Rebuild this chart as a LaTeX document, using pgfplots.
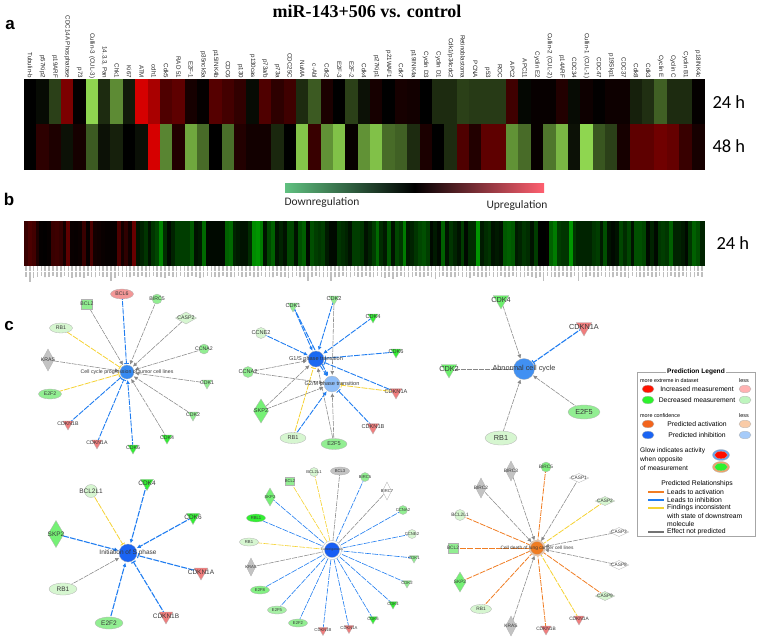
\documentclass[border=0pt]{standalone}
\usepackage{fontspec}
\setmainfont{Liberation Sans}
\newfontfamily\titf{Liberation Serif}
\newfontfamily\carl{Carlito}
\usepackage{pgfplots}
\usepackage{pgfplotstable}
\pgfplotsset{compat=1.18}
\usetikzlibrary{arrows.meta}
\definecolor{cB}{RGB}{32,125,240}
\definecolor{cG}{RGB}{135,135,135}
\definecolor{cY}{RGB}{245,210,50}
\definecolor{cO}{RGB}{240,125,35}
\definecolor{pale}{RGB}{214,246,208}
\definecolor{mid}{RGB}{146,238,146}
\definecolor{brt}{RGB}{50,240,50}
\definecolor{rd}{RGB}{240,125,125}
\definecolor{gry}{RGB}{195,195,195}
\tikzset{
 ar/.style={-{Latex[length=4pt,width=4pt]}},
 br/.style={-{Bar[width=5pt]}},
 bl/.style={cB,line width=.9pt,dash pattern=on 6pt off 1.2pt},
 gy/.style={cG,line width=.55pt,dash pattern=on 5pt off 1pt},
 yl/.style={cY,line width=.8pt,dash pattern=on 6pt off 1.2pt},
 og/.style={cO,line width=.8pt,dash pattern=on 6pt off 1.2pt},
 thn/.style={line width=.6pt}
}
% x,y,mark,xscale,yscale,colour,label,font size -- first the marks, then (second axis) the labels
\newcommand\nd[8]{\addplot[only marks,mark=#3,mark size=1pt,mark options={xscale=#4,yscale=#5,fill=#6,draw=black!30,line width=.3pt}] coordinates{(#1,#2)};}
\newcommand\Tr[6]{\nd{#1}{#2}{triangle*}{#3}{-#3}{#4}{#5}{#6}}
\newcommand\El[7]{\nd{#1}{#2}{*}{#3}{#4}{#5}{#6}{#7}}
\newcommand\Di[7]{\nd{#1}{#2}{diamond*}{#3}{#4}{#5}{#6}{#7}}
\newcommand\Sq[7]{\nd{#1}{#2}{square*}{#3}{#4}{#5}{#6}{#7}}
\newcommand\eA[3]{\addplot[#3,shorten >=8pt] coordinates{(#1,#2)(127,372)};}
\newcommand\eG[3]{\addplot[#3,shorten >=9pt] coordinates{(#1,#2)(316,359)};}
\newcommand\eM[3]{\addplot[#3,shorten >=9pt] coordinates{(#1,#2)(332,384)};}
\newcommand\eC[3]{\addplot[#3,shorten >=11pt] coordinates{(#1,#2)(524,369)};}
\newcommand\eD[3]{\addplot[#3,shorten >=10pt] coordinates{(#1,#2)(128,553)};}
\newcommand\eE[3]{\addplot[#3,shorten >=9pt] coordinates{(#1,#2)(332,550)};}
\newcommand\eF[3]{\addplot[#3,shorten >=8pt] coordinates{(#1,#2)(537,548)};}
\newcommand\netedges{%
\eA{122}{294}{bl,br}\eA{87}{304}{gy,ar}\eA{157}{299}{gy,ar}\eA{186}{318}{gy,ar}\eA{204}{349}{gy,ar}\eA{207}{383}{gy,ar}\eA{193}{415}{gy,ar}\eA{167}{438}{gy,ar}\eA{133}{448}{bl,ar}\eA{97}{443}{bl,br}\eA{68}{424}{bl,br}\eA{50}{394}{yl,br}\eA{48}{360}{gy,ar}\eA{61}{328}{yl,br}%
\eG{293}{306}{bl,ar}\eM{293}{306}{bl,ar}\eG{334}{299}{bl,ar}\eM{334}{299}{gy,ar}\eG{373}{317}{bl,ar}\eG{396}{352}{bl,br}\eG{396}{392}{bl,br}\eM{396}{392}{yl,br}\eM{373}{427}{bl,br}\eG{334}{444}{gy,ar}\eM{334}{444}{gy,ar}\eG{293}{438}{yl,br}\eM{293}{438}{bl,ar}\eG{261}{411}{gy,ar}\eM{261}{411}{gy,ar}\eG{248}{372}{gy,ar}\eM{248}{372}{gy,ar}\eG{261}{333}{bl,ar}%
\addplot[bl,ar,shorten >=9pt] coordinates{(316,359)(332,384)};%
\eC{501}{300}{gy,ar}\eC{584}{327}{bl,br,line width=1.1pt}\eC{449}{369}{gy}\eC{584}{412}{gy,ar}\eC{501}{438}{gy,ar}%
\eD{147}{483}{bl,ar,line width=1.1pt}\eD{193}{517}{bl,ar,line width=1.1pt}\eD{201}{572}{bl,br,line width=1.1pt}\eD{166}{616}{bl,br,line width=1.1pt}\eD{109}{623}{bl,ar,line width=1.1pt}\eD{63}{589}{gy,ar}\eD{56}{534}{bl,ar,line width=1.1pt}\eD{91}{491}{yl,br}%
\eE{314}{472}{yl,thn}\eE{340}{471}{gy}\eE{365}{477}{bl,thn}\eE{387}{491}{gy}\eE{403}{510}{bl,thn}\eE{412}{534}{bl,thn}\eE{414}{558}{bl,thn}\eE{407}{583}{bl,thn}\eE{393}{604}{bl,thn}\eE{373}{619}{bl,thn}\eE{349}{628}{bl,thn}\eE{323}{630}{bl,thn}\eE{298}{623}{bl,thn}\eE{277}{610}{bl,thn}\eE{260}{590}{bl,thn}\eE{251}{567}{gy}\eE{249}{542}{yl,thn}\eE{256}{518}{bl,thn}\eE{270}{497}{bl,thn}\eE{290}{481}{yl,thn}%
\eF{511}{471}{gy,ar}\eF{481}{488}{gy,ar}\eF{546}{467}{og}\eF{579}{478}{gy,ar}\eF{605}{501}{yl}\eF{619}{532}{gy,ar}\eF{619}{565}{gy,ar}\eF{605}{596}{og}\eF{579}{619}{yl}\eF{546}{629}{og}\eF{511}{626}{gy,ar}\eF{481}{609}{og}\eF{460}{582}{og}\eF{453}{548}{og}\eF{460}{515}{og}%
}
\newcommand\netnodes{%
\El{122}{294}{11.5}{5}{rd!80!white}{BCL6}{5.2}%
\Sq{87}{304}{5.5}{5}{mid}{BCL2}{5.2}%
\El{157}{299}{5}{5}{mid}{BIRC5}{5.2}%
\Di{186}{318}{14}{6}{pale}{CASP2}{5.2}%
\El{204}{349}{5}{5}{mid}{CCNA2}{5.2}%
\Tr{207}{383}{6}{mid}{CDK1}{5.2}%
\Tr{193}{415}{6}{mid}{CDK2}{5.2}%
\Tr{167}{438}{6}{brt}{CDK4}{5.2}%
\Tr{133}{448}{6}{brt}{CDK6}{5.2}%
\Tr{97}{443}{6}{rd}{CDKN1A}{5.2}%
\Tr{68}{424}{6}{rd}{CDKN1B}{5.2}%
\El{50}{394}{11.5}{5}{mid}{E2F2}{5.2}%
\Di{48}{360}{8}{11}{gry}{KRAS}{5.2}%
\El{61}{328}{11.5}{5}{pale}{RB1}{5.2}%
\El{127}{372}{7}{7}{cB!90!white}{Cell cycle progression of tumor cell lines}{5.2}%
\Tr{293}{306}{6}{mid}{CDK1}{5.6}%
\Tr{334}{299}{6}{mid}{CDK2}{5.6}%
\Tr{373}{317}{6}{brt}{CDK4}{5.6}%
\Tr{396}{352}{6}{brt}{CDK6}{5.6}%
\Tr{396}{392}{7}{rd}{CDKN1A}{5.6}%
\Tr{373}{427}{7}{rd}{CDKN1B}{5.6}%
\El{334}{444}{13}{5.5}{mid}{E2F5}{5.6}%
\El{293}{438}{13}{5.5}{pale}{RB1}{5.6}%
\Di{261}{411}{10}{12}{mid!80!green}{SKP2}{5.6}%
\El{248}{372}{5.5}{5.5}{mid}{CCNA2}{5.6}%
\El{261}{333}{5.5}{5.5}{pale}{CCNE2}{5.6}%
\El{316}{359}{8}{8}{cB!85!blue}{G1/S phase transition}{5.6}%
\El{332}{384}{8}{8}{cB!50!white}{G2/M phase transition}{5.6}%
\Tr{501}{300}{9}{mid!60!brt}{CDK4}{7.3}%
\Tr{584}{327}{9}{rd}{CDKN1A}{7.3}%
\Tr{449}{369}{9}{mid!60!brt}{CDK2}{7.3}%
\El{584}{412}{16}{7}{mid}{E2F5}{7.3}%
\El{501}{438}{16}{7}{pale}{RB1}{7.3}%
\El{524}{369}{10.5}{10.5}{cB!85!white}{Abnormal cell cycle}{7.3}%
\Tr{147}{483}{7.5}{brt}{CDK4}{6.5}%
\Tr{193}{517}{7.5}{brt}{CDK6}{6.5}%
\Tr{201}{572}{8}{rd}{CDKN1A}{6.5}%
\Tr{166}{616}{8}{rd}{CDKN1B}{6.5}%
\El{109}{623}{14}{6}{mid}{E2F2}{6.5}%
\El{63}{589}{14}{6}{pale}{RB1}{6.5}%
\Di{56}{534}{10.5}{13.5}{mid!80!green}{SKP2}{6.5}%
\El{91}{491}{6.5}{6.5}{pale}{BCL2L1}{6.5}%
\El{128}{553}{9}{9}{cB!80!blue}{Initiation of S phase}{6.5}%
\El{314}{472}{4.5}{4.5}{pale}{BCL2L1}{4.2}%
\El{340}{471}{9.5}{4}{gry}{BCL3}{4.2}%
\El{365}{477}{4.5}{4.5}{mid}{BIRC5}{4.2}%
\Di{387}{491}{6}{9}{white}{BIRC7}{4.2}%
\El{403}{510}{4.5}{4.5}{mid}{CCNA2}{4.2}%
\El{412}{534}{4.5}{4.5}{pale}{CCNE2}{4.2}%
\Tr{414}{558}{5}{mid}{CDK1}{4.2}%
\Tr{407}{583}{5}{mid}{CDK2}{4.2}%
\Tr{393}{604}{5}{brt}{CDK4}{4.2}%
\Tr{373}{619}{5}{brt}{CDK6}{4.2}%
\Tr{349}{628}{5.5}{rd}{CDKN1A}{4.2}%
\Tr{323}{630}{5.5}{rd}{CDKN1B}{4.2}%
\El{298}{623}{9.5}{4}{mid}{E2F2}{4.2}%
\El{277}{610}{9.5}{4}{mid!70!pale}{E2F5}{4.2}%
\El{260}{590}{9.5}{4}{mid!90!green}{E2F8}{4.2}%
\Di{251}{567}{6}{9}{gry}{KRAS}{4.2}%
\El{249}{542}{9.5}{4}{pale}{RB1}{4.2}%
\El{256}{518}{9.5}{4}{brt}{RBL1}{4.2}%
\Di{270}{497}{7}{9}{mid!80!green}{SKP2}{4.2}%
\Sq{290}{481}{4.5}{4}{mid}{BCL2}{4.2}%
\El{332}{550}{9.5}{9.5}{white}{}{4}%
\El{332}{550}{7.5}{7.5}{cB!75!blue}{Tumorigenesis}{3.4}%
\Di{511}{471}{7}{10}{gry}{BIRC3}{4.8}%
\Di{481}{488}{7}{10}{gry}{BIRC2}{4.8}%
\El{546}{467}{5}{5}{mid!80!brt}{BIRC5}{4.8}%
\Di{579}{478}{13}{4.5}{white}{CASP1}{4.8}%
\Di{605}{501}{13}{4.5}{pale}{CASP2}{4.8}%
\Di{619}{532}{13}{4.5}{white}{CASP3}{4.8}%
\Di{619}{565}{13}{4.5}{white}{CASP8}{4.8}%
\Di{605}{596}{13}{4.5}{pale}{CASP9}{4.8}%
\Tr{579}{619}{6}{rd}{CDKN1A}{4.8}%
\Tr{546}{629}{6}{rd}{CDKN1B}{4.8}%
\Di{511}{626}{7}{10}{gry}{KRAS}{4.8}%
\El{481}{609}{10.5}{4.5}{pale}{RB1}{4.8}%
\Di{460}{582}{8}{10}{mid!80!green}{SKP2}{4.8}%
\Sq{453}{548}{5}{5}{mid}{BCL2}{4.8}%
\El{460}{515}{5.5}{5.5}{pale}{BCL2L1}{4.8}%
\El{537}{548}{8}{8}{cO!40!white}{}{4}%
\El{537}{548}{6.5}{6.5}{cO}{Cell death of lung cancer cell lines}{4.8}%
\El{648}{389}{6}{3.8}{red!85!orange}{}{5}%
\El{745}{389}{6}{3.8}{red!30!white}{}{5}%
\El{648}{400}{6}{3.8}{brt!90!green}{}{5}%
\El{745}{400}{6}{3.8}{mid!60!white}{}{5}%
\El{648}{424}{6}{3.8}{cO!80!red}{}{5}%
\El{745}{424}{6}{3.8}{cO!40!white}{}{5}%
\El{648}{435}{6}{3.8}{cB!80!blue}{}{5}%
\El{745}{435}{6}{3.8}{cB!40!white}{}{5}%
\El{721}{455}{8.5}{5.5}{cB!70!white}{}{5}%
\El{721}{455}{6.5}{3.8}{red!90!orange}{}{5}%
\El{721}{467}{8.5}{5.5}{cO!70!white}{}{5}%
\El{721}{467}{6.5}{3.8}{brt!90!green}{}{5}%
}
\pgfplotstableread{
i h24 h48
0 0 0
1 -0.05 0.2
2 -0.3 0.13
3 0.55 -0.08
4 0.02 0.1
5 -1 -0.42
6 -0.2 -0.08
7 -0.65 -0.15
8 -0.12 0
9 0.95 -0.07
10 0.75 0.95
11 0.35 -0.62
12 0.42 0.15
13 0.1 -0.78
14 0.02 -0.5
15 0.38 0
16 0.3 -0.52
17 0.22 0.15
18 -0.05 0.08
19 0.35 0.08
20 0.2 -0.18
21 0.28 0
22 -0.2 -0.92
23 -0.42 0.25
24 0.12 -0.68
25 0 -0.9
26 -0.3 0.03
27 -0.08 -0.68
28 0.1 -0.9
29 0 -0.5
30 0.1 -0.45
31 0.08 -0.2
32 0 0.12
33 -0.2 0
34 -0.2 -0.2
35 -0.3 0.35
36 -0.27 0.15
37 -0.27 0.42
38 -0.27 0.42
39 0.28 -0.68
40 -0.03 -0.5
41 0.03 0.03
42 0.03 -0.55
43 0.15 -0.85
44 -0.05 -0.08
45 0.06 -1
46 0.01 -0.4
47 0.06 -0.3
48 0.06 0.1
49 -0.15 0.42
50 -0.22 0.42
51 -0.45 0.5
52 -0.2 0.45
53 -0.2 0.25
54 0.02 0.1
}\tabA
\pgfplotstableread{
v len
.3 10
.4 16
.35 12
.15 10
.02 9
.01 11
.03 10
.3 9
.32 10
.28 11
.1 9
.5 10
.05 12
.04 11
.06 10
.3 12
.03 9
.4 10
.1 11
.08 9
.05 10
.03 10
.03 15
.03 12
.4 9
.1 10
.25 10
.08 11
.55 9
-.12 10
-.2 9
-.3 11
-.1 10
-.3 9
-.4 10
-.75 11
-.25 12
-.05 9
-.2 10
-.35 11
-.35 9
-.35 10
-.35 10
-.5 9
-.1 10
-.15 12
-.6 11
-.05 9
-.05 10
-.05 10
-.05 11
-.05 9
-.55 10
-.6 10
-.2 11
-.15 9
-.1 10
-.1 10
-.25 9
-.8 11
-.85 10
-.7 9
-.1 10
-.4 10
-.55 11
-.1 9
-.2 10
-.1 10
-.4 12
-.4 10
-.1 9
-.45 11
-.55 10
-.05 15
-.45 10
-.35 9
-.3 10
-.35 11
-.15 10
-.05 15
-.05 11
-.3 10
-.25 9
-.2 10
-.1 11
-.35 9
-.35 10
-.3 10
-.1 9
-.2 10
-.35 11
-.6 9
-.25 10
-.15 12
-.5 10
-.1 13
-.4 10
-.3 9
-.7 10
-.15 11
-.2 10
-.3 9
-.4 10
-.45 10
-.35 9
-.05 11
-.15 13
-.05 10
-.55 9
-.1 10
-.3 10
-.2 11
-.1 9
-.35 10
-.05 10
-.25 12
-.25 9
-.85 10
-.15 10
-.25 11
-.3 9
-.1 10
-.15 10
-.1 9
-.5 11
-.55 10
-.5 9
-.15 10
-.2 10
-.3 11
-.25 9
-.1 10
-.35 12
0 10
0 15
.02 9
-.55 10
-.7 10
-.35 11
-.3 9
-.3 10
-.85 11
-.3 9
-.2 15
-.2 10
-.2 10
-.2 9
-.3 11
-.35 10
-.15 9
-.45 10
-.1 10
-.05 11
-.1 9
-.4 10
-.25 10
-.4 12
-.1 9
-.45 10
-.45 10
-.4 11
-.05 9
-.2 10
-.05 10
-.3 9
-.35 11
-.3 10
-.55 9
-.2 10
-.2 11
-.15 9
-.05 10
-.3 10
-.55 11
-.45 9
-.2 10
}\tabB
\begin{document}
\begin{tikzpicture}[x=1pt,y=1pt]
\useasboundingbox (0,0) rectangle (760,641);
% --- panel a
\begin{axis}[at={(24pt,472pt)},anchor=south west,width=680pt,height=89.7pt,scale only axis,
 xmin=-.5,xmax=54.5,ymin=-.5,ymax=1.5,y dir=reverse,
 colormap={ha}{rgb255(0)=(143,214,80);rgb255(1)=(0,0,0);rgb255(2)=(225,0,0)},
 point meta min=-1,point meta max=1,
 xtick={0,...,54},ytick={0,1},major tick length=0pt,
 xticklabel pos=upper,yticklabel pos=right,
 axis line style={gray!25,line width=.4pt},
 xticklabels={Tubulin-b,p57Kip2,p19ARF,CDC14A Phosphatase,p73,Cullin-3 (CUL-3),{14.3.3, Pan},Chk1,Ki67,ATM,cdh1,Cdk5,RAD 51,E2F-1,p35nck5a,p15INK4b,CDC6,p130,p130cas,p73a/b,p73a,CDC25C,NuMA,c-Abl,Cdk2,E2F-3,E2F-2,Cdk4,p27Kip1,p21WAF1,Cdk7,p19INK4a,Cyclin D3,Cyclin D1,Cdk1/p34cdc2,Retinoblastoma,PCNA,p53,ROC,APC2,APC11,Cyclin E2,Cullin-2 (CUL-2),p14ARF,CDC34,Cullin-1 (CUL-1),CDC47,p19Skp1,CDC37,Cdk8,Cdk3,Cyclin E,Cyclin C,Cyclin B1,p18INK4c},
 xticklabel style={rotate=-90,anchor=east,inner sep=1pt,text=black!85,font=\fontsize{6.2}{6.2}\selectfont},
 yticklabels={24 h,48 h},
 yticklabel style={anchor=west,xshift=5pt,font=\carl\fontsize{18.5}{18.5}\selectfont},
]
\addplot[scatter,only marks,mark=square*,mark size=1pt,scatter src=explicit,
 scatter/use mapped color={draw=mapped color,fill=mapped color},
 mark options={xscale=6.18,yscale=22.4,line width=.2pt}] table[x=i,y expr=0,meta=h24]{\tabA};
\addplot[scatter,only marks,mark=square*,mark size=1pt,scatter src=explicit,
 scatter/use mapped color={draw=mapped color,fill=mapped color},
 mark options={xscale=6.18,yscale=22.4,line width=.2pt}] table[x=i,y expr=1,meta=h48]{\tabA};
\end{axis}
% --- panel b
\begin{axis}[at={(24pt,376pt)},anchor=south west,width=680pt,height=44.3pt,scale only axis,
 xmin=-.5,xmax=175.5,ymin=-.5,ymax=.5,
 colormap={hb}{rgb255(0)=(0,175,0);rgb255(1)=(0,0,0);rgb255(2)=(190,0,0)},
 point meta min=-1,point meta max=1,
 xtick=\empty,ytick={0},major tick length=0pt,yticklabel pos=right,yticklabels={24 h},
 axis line style={gray!25,line width=.4pt},
 yticklabel style={anchor=west,xshift=9pt,font=\carl\fontsize{18.5}{18.5}\selectfont},
]
\addplot[scatter,only marks,mark=square*,mark size=1pt,scatter src=explicit,
 scatter/use mapped color={draw=mapped color,fill=mapped color},
 mark options={xscale=1.95,yscale=22.15,line width=.1pt}] table[x expr=\coordindex,y expr=0,meta=v]{\tabB};
\end{axis}
\begin{axis}[at={(24pt,359pt)},anchor=south west,width=680pt,height=16pt,scale only axis,
 xmin=-.5,xmax=175.5,ymin=0,ymax=16,y dir=reverse,hide axis]
\addplot[ycomb,gray!50,line width=1.6pt,dash pattern=on .6pt off .5pt] table[x expr=\coordindex,y=len]{\tabB};
\end{axis}
% --- networks: edges and node shapes
\begin{axis}[at={(0pt,0pt)},anchor=south west,width=760pt,height=641pt,scale only axis,
 xmin=0,xmax=760,ymin=0,ymax=641,y dir=reverse,hide axis,clip=false]
\netedges
\netnodes
\addplot[cO,line width=1.3pt] coordinates{(648,492)(664,492)};
\addplot[cB,line width=1.3pt] coordinates{(648,500)(664,500)};
\addplot[cY,line width=1.3pt] coordinates{(648,508)(664,508)};
\addplot[black!55,line width=1.3pt] coordinates{(648,532)(664,532)};
\draw[gray!70,line width=.5pt] (axis cs:637,372) rectangle (axis cs:755,536);
\end{axis}
% --- all text on top
\renewcommand\nd[8]{\node[text=black!78,inner sep=0pt,font=\fontsize{#8}{#8}\selectfont] at (axis cs:#1,#2) {#7};}
\begin{axis}[at={(0pt,0pt)},anchor=south west,width=760pt,height=641pt,scale only axis,
 xmin=0,xmax=760,ymin=0,ymax=641,y dir=reverse,hide axis,clip=false]
\netnodes
\node[font=\titf\bfseries\fontsize{18}{18}\selectfont] at (axis cs:367,11) {miR-143+506 vs. control};
\node[font=\bfseries\fontsize{17}{17}\selectfont] at (axis cs:10,25) {a};
\node[font=\bfseries\fontsize{17}{17}\selectfont] at (axis cs:9,199) {b};
\node[font=\bfseries\fontsize{17}{17}\selectfont] at (axis cs:9,326) {c};
\shade[left color={rgb,255:red,96;green,192;blue,128},right color={rgb,255:red,255;green,96;blue,112},middle color=black] (axis cs:285,183) rectangle (axis cs:544,192);
\node[font=\carl\fontsize{11.5}{11.5}\selectfont,text=black!85] at (axis cs:322,202) {Downregulation};
\node[font=\carl\fontsize{11.5}{11.5}\selectfont,text=black!85] at (axis cs:517,205) {Upregulation};
\node[fill=white,inner sep=1pt,font=\bfseries\fontsize{6.6}{6.6}\selectfont] at (axis cs:696,372) {Prediction Legend};
\node[anchor=west,inner sep=0pt,font=\fontsize{5.4}{5.4}\selectfont] at (axis cs:640,381) {more extreme in dataset};
\node[anchor=west,inner sep=0pt,font=\fontsize{5.4}{5.4}\selectfont] at (axis cs:739,381) {less};
\node[anchor=west,inner sep=0pt,font=\fontsize{5.4}{5.4}\selectfont] at (axis cs:640,416) {more confidence};
\node[anchor=west,inner sep=0pt,font=\fontsize{5.4}{5.4}\selectfont] at (axis cs:739,416) {less};
\node[font=\fontsize{6.8}{6.8}\selectfont] at (axis cs:697,389) {Increased measurement};
\node[font=\fontsize{6.8}{6.8}\selectfont] at (axis cs:697,400) {Decreased measurement};
\node[font=\fontsize{6.8}{6.8}\selectfont] at (axis cs:697,424) {Predicted activation};
\node[font=\fontsize{6.8}{6.8}\selectfont] at (axis cs:697,435) {Predicted inhibition};
\node[anchor=west,inner sep=0pt,font=\fontsize{6.6}{6.6}\selectfont] at (axis cs:640,451) {Glow indicates activity};
\node[anchor=west,inner sep=0pt,font=\fontsize{6.6}{6.6}\selectfont] at (axis cs:640,459.5) {when opposite};
\node[anchor=west,inner sep=0pt,font=\fontsize{6.6}{6.6}\selectfont] at (axis cs:640,468) {of measurement};
\node[font=\fontsize{6.8}{6.8}\selectfont] at (axis cs:697,484) {Predicted Relationships};
\node[anchor=west,inner sep=0pt,font=\fontsize{6.8}{6.8}\selectfont] at (axis cs:667,492) {Leads to activation};
\node[anchor=west,inner sep=0pt,font=\fontsize{6.8}{6.8}\selectfont] at (axis cs:667,500) {Leads to inhibition};
\node[anchor=west,inner sep=0pt,font=\fontsize{6.8}{6.8}\selectfont] at (axis cs:667,508) {Findings inconsistent};
\node[anchor=west,inner sep=0pt,font=\fontsize{6.8}{6.8}\selectfont] at (axis cs:667,516) {with state of downstream};
\node[anchor=west,inner sep=0pt,font=\fontsize{6.8}{6.8}\selectfont] at (axis cs:667,524) {molecule};
\node[anchor=west,inner sep=0pt,font=\fontsize{6.8}{6.8}\selectfont] at (axis cs:667,532) {Effect not predicted};
\end{axis}
\end{tikzpicture}
\end{document}
